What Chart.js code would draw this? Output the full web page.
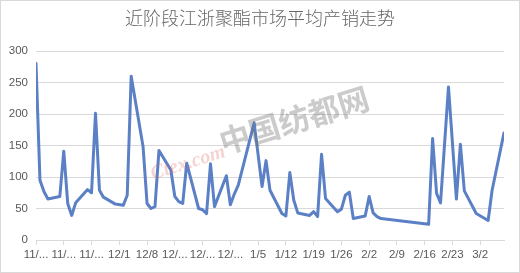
<!DOCTYPE html>
<html>
<head>
<meta charset="utf-8">
<script src="https://cdn.jsdelivr.net/npm/chart.js@4"></script>
<style>
  html, body { margin: 0; padding: 0; background: #fff; }
  canvas { display: block; }
</style>
</head>
<body>
<canvas id="graph" width="520" height="273"></canvas>
<script>
// days counted from 11/10, one point per trading day
var dayOffsets = [0, 1, 2, 3, 6, 7, 8, 9, 10, 13, 14, 15, 16, 17, 20, 22, 23, 24,
  27, 28, 29, 30, 31, 34, 35, 36, 37, 38, 41, 42, 43, 44, 45, 48, 49, 50, 51,
  55, 57, 58, 59, 62, 63, 64, 65, 66, 69, 70, 71, 72, 73, 76, 77, 78, 79, 80,
  83, 84, 85, 86, 87, 99, 100, 101, 102, 104, 106, 107, 108, 111, 114, 115, 118];
var salesRatio = [280, 95, 77, 65, 69, 141, 58, 39, 59, 80, 75, 201, 79, 68, 57, 55, 71, 260,
  148, 58, 50, 53, 142, 111, 69, 61, 58, 122, 50, 48, 42, 121, 53, 102, 56, 73, 87,
  186, 85, 126, 79, 42, 38, 107, 63, 43, 39, 45, 37, 136, 66, 45, 49, 71, 76, 34,
  38, 69, 43, 37, 34, 25, 161, 74, 59, 243, 65, 152, 78, 42, 31, 79, 170];
var tickLabels = ['11/...', '11/...', '11/...', '12/1', '12/8', '12/...', '12/...', '12/...',
  '1/5', '1/12', '1/19', '1/26', '2/2', '2/9', '2/16', '2/23', '3/2'];
var tickDays = [0, 7, 14, 21, 28, 35, 42, 49, 56, 63, 70, 77, 84, 91, 98, 105, 112];
var yTicks = [0, 50, 100, 150, 200, 250, 300];

var titleText = '近阶段江浙聚酯市场平均产销走势';

Chart.defaults.font.family = "'Liberation Sans', Arial, sans-serif";
Chart.defaults.color = '#595959';

var decor = {
  id: 'decor',
  afterDatasetsDraw: function(chart) {
    var c = chart.ctx;
    // watermark
    c.save();
    c.translate(294, 120);
    c.rotate(-0.3);
    c.font = "bold 31px 'Noto Sans CJK SC'";
    c.fillStyle = 'rgba(110,110,110,0.36)';
    c.textAlign = 'center';
    c.textBaseline = 'middle';
    c.fillText('中国纺都网', 0, 0);
    c.font = "italic bold 20px 'Liberation Serif'";
    c.fillStyle = 'rgba(225,110,110,0.3)';
    c.fillText('Ctex.com', -114, 10);
    c.restore();
  },
  afterDraw: function(chart) {
    var c = chart.ctx;
    c.save();
    c.font = "300 18px 'Noto Sans CJK SC'";
    c.fillStyle = '#666666';
    c.textAlign = 'center';
    c.textBaseline = 'middle';
    c.fillText(titleText, 260, 18);
    c.strokeStyle = '#d9d9d9';
    c.lineWidth = 1;
    c.strokeRect(0.5, 0.5, 519, 272);
    c.restore();
  }
};

var ctx = document.getElementById('graph');
var myChart = new Chart(ctx, {
  type: 'line',
  data: {
    datasets: [{
      label: '产销',
      data: dayOffsets.map(function(d, i) { return { x: d, y: salesRatio[i] }; }),
      borderColor: '#5b80c6',
      borderWidth: 3,
      borderJoinStyle: 'round',
      borderCapStyle: 'round',
      pointRadius: 0,
      fill: false,
      tension: 0
    }]
  },
  options: {
    responsive: false,
    animation: false,
    devicePixelRatio: 1,
    layout: { padding: { top: 51, right: 16, bottom: 0, left: 0 } },
    plugins: {
      legend: { display: false },
      tooltip: { enabled: false }
    },
    scales: {
      x: {
        type: 'linear',
        min: 0,
        max: 118,
        afterBuildTicks: function(axis) {
          axis.ticks = tickDays.map(function(v) { return { value: v }; });
        },
        afterFit: function(axis) { axis.height = 33; },
        ticks: {
          autoSkip: false,
          maxRotation: 0,
          padding: 3,
          font: { size: 11.5 },
          callback: function(v) { return tickLabels[tickDays.indexOf(v)]; }
        },
        grid: { drawOnChartArea: false, drawTicks: true, tickLength: 5, color: '#d9d9d9' },
        border: { display: true, color: '#d9d9d9' }
      },
      y: {
        min: 0,
        max: 300,
        afterBuildTicks: function(axis) {
          axis.ticks = yTicks.map(function(v) { return { value: v }; });
        },
        afterFit: function(axis) { axis.width = 36; },
        ticks: { padding: 8, font: { size: 11.5 } },
        grid: { drawTicks: false, color: '#d9d9d9' },
        border: { display: false }
      }
    }
  },
  plugins: [decor]
});
</script>
</body>
</html>
